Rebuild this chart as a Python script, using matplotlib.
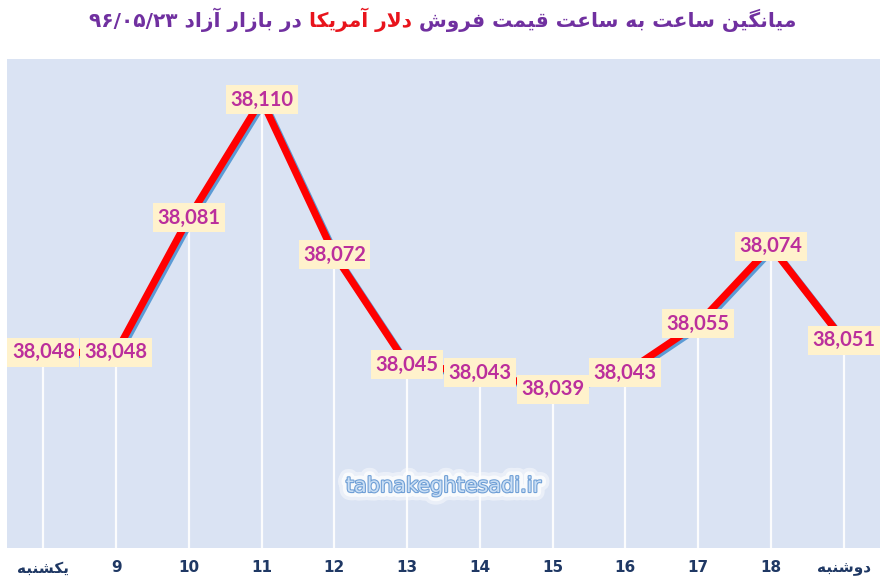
import re
import matplotlib
matplotlib.use("Agg")
import matplotlib.pyplot as plt
import matplotlib.patheffects as pe

# ---------------- data ----------------
categories = ['یکشنبه', '9', '10', '11', '12', '13', '14', '15', '16', '17', '18', 'دوشنبه']
values = [38048, 38048, 38081, 38110, 38072, 38045, 38043, 38039, 38043, 38055, 38074, 38051]
title_part1 = 'میانگین ساعت به ساعت قیمت فروش'
title_part2 = 'دلار آمریکا'
title_part3 = 'در بازار آزاد ۹۶/۰۵/۲۳'
watermark = 'tabnakeghtesadi.ir'

# ---------------- simple Persian shaping ----------------
FORMS = {
    'ا': ('\uFE8D', '\uFE8E', None, None),
    'آ': ('\uFE81', '\uFE82', None, None),
    'ب': ('\uFE8F', '\uFE90', '\uFE91', '\uFE92'),
    'ت': ('\uFE95', '\uFE96', '\uFE97', '\uFE98'),
    'د': ('\uFEA9', '\uFEAA', None, None),
    'ر': ('\uFEAD', '\uFEAE', None, None),
    'ز': ('\uFEAF', '\uFEB0', None, None),
    'س': ('\uFEB1', '\uFEB2', '\uFEB3', '\uFEB4'),
    'ش': ('\uFEB5', '\uFEB6', '\uFEB7', '\uFEB8'),
    'ع': ('\uFEC9', '\uFECA', '\uFECB', '\uFECC'),
    'ف': ('\uFED1', '\uFED2', '\uFED3', '\uFED4'),
    'ق': ('\uFED5', '\uFED6', '\uFED7', '\uFED8'),
    'ل': ('\uFEDD', '\uFEDE', '\uFEDF', '\uFEE0'),
    'م': ('\uFEE1', '\uFEE2', '\uFEE3', '\uFEE4'),
    'ن': ('\uFEE5', '\uFEE6', '\uFEE7', '\uFEE8'),
    'ه': ('\uFEE9', '\uFEEA', '\uFEEB', '\uFEEC'),
    'و': ('\uFEED', '\uFEEE', None, None),
    'ی': ('\uFBFC', '\uFBFD', '\uFBFE', '\uFBFF'),
    'ک': ('\uFB8E', '\uFB8F', '\uFB90', '\uFB91'),
    'گ': ('\uFB92', '\uFB93', '\uFB94', '\uFB95'),
}
LAMALEF = {'ا': ('\uFEFB', '\uFEFC'), 'آ': ('\uFEF5', '\uFEF6')}


def _dual(c):
    return c in FORMS and FORMS[c][2] is not None


def shape(s):
    out = []
    i, n = 0, len(s)
    while i < n:
        c = s[i]
        if c not in FORMS:
            out.append(c)
            i += 1
            continue
        join_prev = i > 0 and _dual(s[i - 1])
        if c == 'ل' and i + 1 < n and s[i + 1] in LAMALEF:
            lig = LAMALEF[s[i + 1]]
            out.append(lig[1] if join_prev else lig[0])
            i += 2
            continue
        join_next = _dual(c) and i + 1 < n and s[i + 1] in FORMS
        f = FORMS[c]
        if join_prev and join_next:
            out.append(f[3])
        elif join_prev:
            out.append(f[1])
        elif join_next:
            out.append(f[2])
        else:
            out.append(f[0])
        i += 1
    return ''.join(out)


def visual(s):
    rev = shape(s)[::-1]
    return re.sub(r'[0-9\u06F0-\u06F9][0-9\u06F0-\u06F9/.,]*[0-9\u06F0-\u06F9]|[0-9\u06F0-\u06F9]',
                  lambda m: m.group(0)[::-1], rev)


# ---------------- figure ----------------
W, H = 887, 585
fig = plt.figure(figsize=(W / 100, H / 100), dpi=100)
fig.patch.set_facecolor('white')
ax = fig.add_axes([7 / W, 1 - 548 / H, (880 - 7) / W, (548 - 59) / H])
ax.set_facecolor('#dae3f3')
for s in ax.spines.values():
    s.set_visible(False)

x = list(range(len(categories)))
ax.set_xlim(-0.5, len(categories) - 0.5)
ax.set_ylim(38000, 38120)

# drop lines
ax.vlines(x, 38000, values, colors='white', linewidth=1.6, alpha=0.9, zorder=1)

# main line with blue shadow
ax.plot(x, values, color='#ff0000', linewidth=5.2, solid_capstyle='butt', zorder=2,
        path_effects=[pe.SimpleLineShadow(offset=(1.6, -1.6), shadow_color='#5b9bd5', alpha=1.0),
                      pe.Normal()])

# data labels
for xi, v in zip(x, values):
    ax.text(xi, v, f'{v:,}', ha='center', va='center', fontsize=14.5, fontweight='bold',
            family='Lato', color='#bb2f9c', zorder=5,
            bbox=dict(boxstyle='square,pad=0.22', fc='#fff2cc', ec='none'))

# ticks
ax.set_yticks([])
ax.set_xticks(x)
ax.set_xticklabels([visual(c) for c in categories])
ax.tick_params(axis='x', length=0, pad=9)
for lbl in ax.get_xticklabels():
    lbl.set_family('DejaVu Sans')
    lbl.set_fontweight('bold')
    lbl.set_fontsize(11)
    lbl.set_color('#1f3864')

# watermark
ax.text(0.5, (585 - 486 - 37) / (548 - 59), watermark, transform=ax.transAxes,
        ha='center', va='center', fontsize=15, family='DejaVu Sans', color='#c9def4', zorder=4,
        path_effects=[pe.withStroke(linewidth=12, foreground='white', alpha=0.45),
                      pe.withStroke(linewidth=7, foreground='white', alpha=0.7),
                      pe.withStroke(linewidth=1.6, foreground='#6f9fd6')])

# title (three coloured parts laid out left to right in visual order)
purple = '#7030a0'
red = '#e8141c'
parts = [(visual(title_part3) + ' ', purple),
         (visual(title_part2) + ' ', red),
         (visual(title_part1), purple)]
texts = []
for s, col in parts:
    t = fig.text(0, 1 - 20 / H, s, color=col, fontsize=14.5, fontweight='bold',
                 family='DejaVu Sans', ha='left', va='center')
    texts.append(t)
renderer = fig.canvas.get_renderer()
widths = [t.get_window_extent(renderer).width for t in texts]
total = sum(widths)
cx = 443
left = cx - total / 2
for t, w in zip(texts, widths):
    t.set_x(left / W)
    left += w

fig.savefig('out.png', dpi=100, facecolor='white')
